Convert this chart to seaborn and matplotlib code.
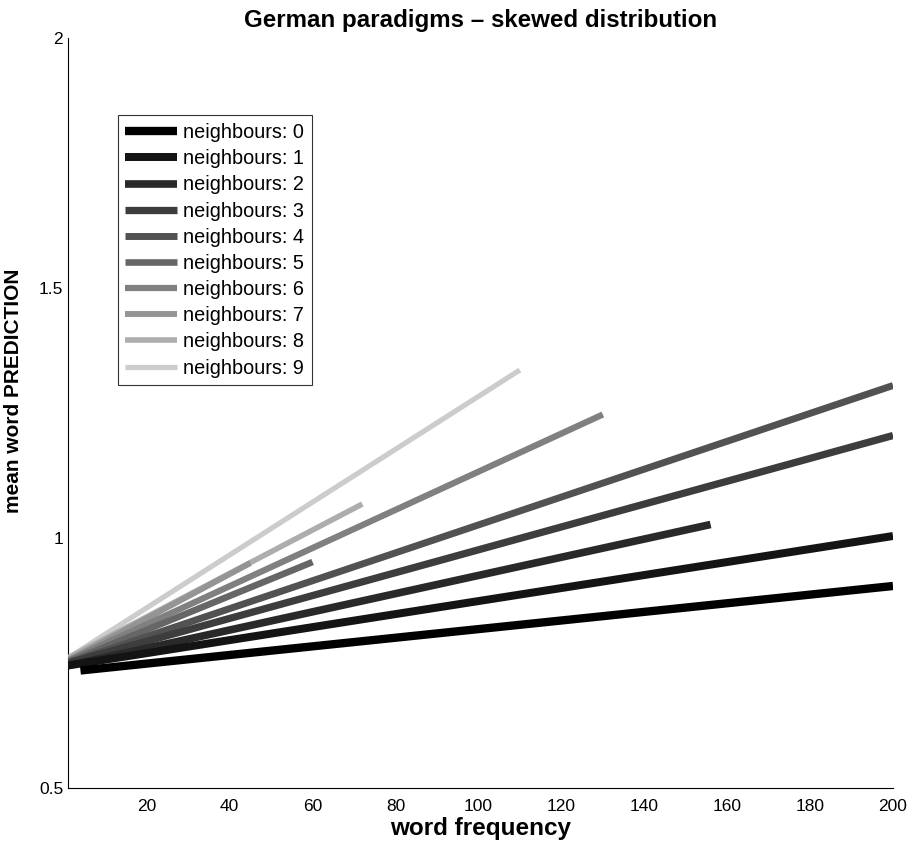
import matplotlib
matplotlib.use("Agg")
import matplotlib.pyplot as plt
import seaborn as sns
import pandas as pd

# ---- data ----
neighbours = [0, 1, 2, 3, 4, 5, 6, 7, 8, 9]
freq_start = [4, 1, 1, 1, 1, 1, 1, 1, 1, 1]
pred_start = [0.735, 0.745, 0.745, 0.750, 0.750, 0.752, 0.755, 0.755, 0.760, 0.760]
freq_end = [200, 200, 156, 200, 200, 60, 130, 45, 72, 110]
pred_end = [0.904, 1.004, 1.027, 1.205, 1.305, 0.952, 1.247, 0.950, 1.068, 1.336]
gray_levels = [0.0, 0.08, 0.16, 0.24, 0.32, 0.40, 0.50, 0.58, 0.68, 0.80]
x_ticks = [20, 40, 60, 80, 100, 120, 140, 160, 180, 200]
y_ticks = [0.5, 1.0, 1.5, 2.0]
y_tick_labels = ["0.5", "1", "1.5", "2"]

sns.set_theme(style="white")
plt.rcParams["font.family"] = ["Liberation Sans", "DejaVu Sans"]
plt.rcParams["text.color"] = "black"
plt.rcParams["axes.labelcolor"] = "black"

fig = plt.figure(figsize=(9.10, 8.41), dpi=100)
ax = fig.add_axes([68 / 910, 1 - 788 / 841, (893 - 68) / 910, (788 - 38) / 841])

rows = []
for n, fs, ps, fe, pe in zip(neighbours, freq_start, pred_start, freq_end, pred_end):
    lab = f"neighbours: {n}"
    rows.append({"freq": fs, "pred": ps, "label": lab})
    rows.append({"freq": fe, "pred": pe, "label": lab})
df = pd.DataFrame(rows)

handles = {}
for i in reversed(range(len(neighbours))):
    lab = f"neighbours: {neighbours[i]}"
    g = gray_levels[i]
    lw = 6.0 - 0.25 * i
    sub = df[df["label"] == lab]
    sns.lineplot(data=sub, x="freq", y="pred", color=(g, g, g), linewidth=lw,
                 ax=ax, label=lab, zorder=20 - i, legend=False,
                 solid_capstyle="butt")
    handles[lab] = ax.lines[-1]

ordered = [handles[f"neighbours: {n}"] for n in neighbours]
leg = ax.legend(ordered, [h.get_label() for h in ordered], loc="upper left",
                bbox_to_anchor=(0.06, 0.897), borderaxespad=0,
                frameon=True, fancybox=False, edgecolor="black",
                fontsize=14.3, handlelength=2.6, handletextpad=0.3,
                labelspacing=0.36, borderpad=0.4)
leg.get_frame().set_linewidth(0.8)
leg.set_zorder(30)

ax.set_xlim(1, 200)
ax.set_ylim(0.5, 2.0)
ax.set_xticks(x_ticks)
ax.set_yticks(y_ticks)
ax.set_yticklabels(y_tick_labels)
ax.tick_params(direction="in", length=5, width=0.8, labelsize=12.5, colors="black")
ax.tick_params(axis="x", pad=8)
for s in ["top", "right"]:
    ax.spines[s].set_visible(False)
for s in ["left", "bottom"]:
    ax.spines[s].set_color("black")
    ax.spines[s].set_linewidth(0.8)

ax.set_xlabel("word frequency", fontsize=17.5, fontweight="bold", labelpad=2)
ax.set_ylabel("mean word PREDICTION", fontsize=15, fontweight="bold")
ax.yaxis.set_label_coords(-0.054, 0.529)
ax.set_title("German paradigms – skewed distribution", fontsize=17.4,
             fontweight="bold", pad=8)

fig.savefig("out.png", dpi=100, facecolor="white")
